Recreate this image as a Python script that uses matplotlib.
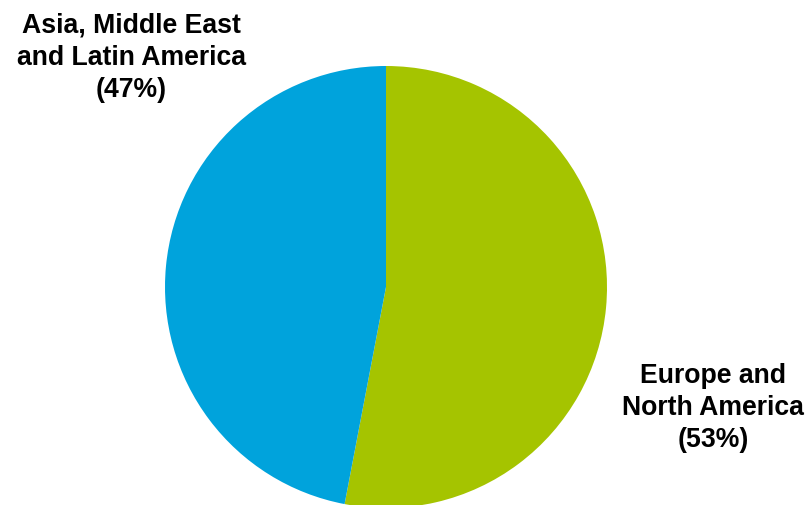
import matplotlib
matplotlib.use("Agg")
import matplotlib.pyplot as plt

regions = ["Europe and\nNorth America", "Asia, Middle East\nand Latin America"]
shares = [53, 47]
colors = ["#A5C400", "#00A3DC"]

W, H = 811, 506
fig = plt.figure(figsize=(W / 100, H / 100), dpi=100)
ax = fig.add_axes([0, 0, 1, 1])

cx, cy, r = 386, H - 288, 221
ax.pie(shares, colors=colors, startangle=90, counterclock=False,
       center=(cx, cy), radius=r, frame=True,
       wedgeprops={"linewidth": 0})
ax.set_xlim(0, W)
ax.set_ylim(0, H)
ax.set_aspect("equal")
ax.axis("off")

label_pos = [(131, H - 58), (713, H - 408)][::-1]
for name, val, (x, y) in zip(regions, shares, label_pos):
    ax.text(x, y, f"{name}\n({val}%)", ha="center", va="center",
            fontsize=19.2, fontweight="bold", family="Liberation Sans",
            linespacing=1.32)

fig.savefig("out.png", dpi=100)
